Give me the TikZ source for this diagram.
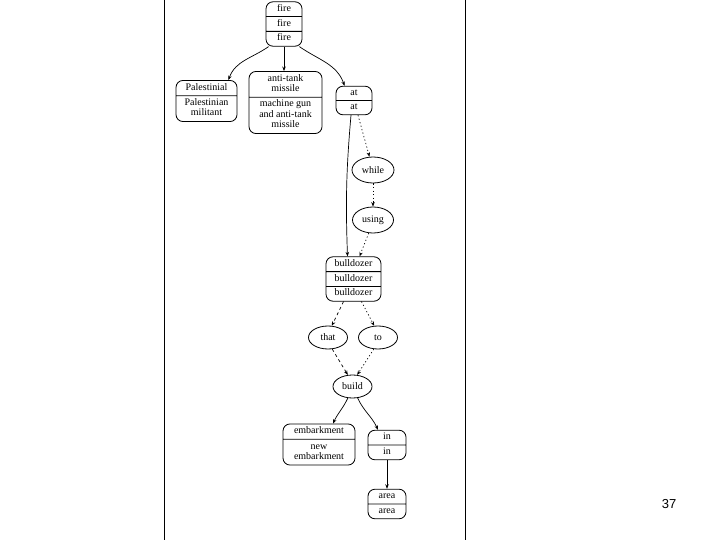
\documentclass[tikz,border=0pt]{standalone}
\usepackage{fontspec}
\setmainfont{Liberation Serif}
\setsansfont{Liberation Sans}
\usetikzlibrary{shapes.multipart,shapes.geometric,arrows.meta}

\newcommand{\lex}[1]{\begin{tabular}{@{}c@{}}#1\end{tabular}}

\tikzset{
	lexbox/.style={draw, rectangle split, rectangle split parts=#1, rounded corners=7pt,
		inner xsep=2pt, inner ysep=2pt, line width=0.8pt, font=\fontsize{10}{10.5}\selectfont},
	wordell/.style={draw, ellipse, inner sep=0pt, minimum width=39pt, minimum height=23pt,
		line width=0.8pt, font=\fontsize{10}{10.5}\selectfont},
	dep/.style={-{Stealth[length=4.5pt,width=3.5pt]}, line width=0.7pt},
	dotdep/.style={dep, dash pattern=on 1.2pt off 2.4pt},
	dashdep/.style={dep, dash pattern=on 3pt off 3pt},
}

\begin{document}
\begin{tikzpicture}[x=1pt,y=-1pt]
		\useasboundingbox (0,0) rectangle (720,540);
		\draw[line width=0.8pt] (164,0) -- (164,540);  % left rule
		\draw[line width=0.8pt] (465,0) -- (465,540);  % right rule

		\node[lexbox=3, minimum width=36pt, inner ysep=1.75pt] (fire) at (284,24) {\lex{fire}\nodepart{two}\lex{fire}\nodepart{three}\lex{fire}};
		\draw[line width=1.6pt] (fire.text split west) -- (fire.text split east);
		\node[lexbox=2, minimum width=61pt] (pal) at (206.5,101) {\lex{Palestinial}\nodepart{two}\lex{Palestinian\\militant}};
		\node[lexbox=2, minimum width=73pt] (atm) at (285.5,102.5) {\lex{anti-tank\\missile}\nodepart{two}\lex{machine gun\\and anti-tank\\missile}};
		\node[lexbox=2, minimum width=36pt, inner ysep=1.5pt] (at) at (354,100.5) {\lex{at}\nodepart{two}\lex{at}};

		\node[wordell, minimum width=42pt, minimum height=26pt] (while) at (373,170) {while};
		\node[wordell, minimum width=41pt, minimum height=26pt] (using) at (373,220) {using};

		\node[lexbox=3, minimum width=55pt, inner ysep=1.75pt] (bull) at (353.5,279) {\lex{bulldozer}\nodepart{two}\lex{bulldozer}\nodepart{three}\lex{bulldozer}};

		\node[wordell] (that) at (328,337.5) {that};
		\node[wordell] (to) at (378,337.5) {to};
		\node[wordell] (build) at (352.5,386.5) {build};

		\node[lexbox=2, minimum width=72pt] (emb) at (319,444.5) {\lex{embarkment}\nodepart{two}\lex{new\\embarkment}};
		\node[lexbox=2, minimum width=38pt, inner ysep=1.75pt] (in) at (387,445) {\lex{in}\nodepart{two}\lex{in}};
		\node[lexbox=2, minimum width=38pt, inner ysep=1.75pt] (area) at (387,504) {\lex{area}\nodepart{two}\lex{area}};

		\node[font=\sffamily\fontsize{13}{15}\selectfont] (page) at (669,504) {37};

		% fire
		\draw[dep] ([xshift=3pt]fire.south west) to[out=-145,in=70] ([xshift=-9pt]pal.north east);
		\draw[dep] (fire.south) -- (fire.south |- atm.north);
		\draw[dep] ([xshift=-3pt]fire.south east) to[out=-35,in=110] ([xshift=9pt]at.north west);
		% at
		\draw[dep] ([xshift=-3pt]at.south) to[out=-95,in=92] ([xshift=-6pt]bull.north);
		\draw[dotdep] ([xshift=4pt]at.south) -- (while.105);
		\draw[dotdep] (while.south) -- (using.north);
		\draw[dotdep] (using.252) -- ([xshift=6pt]bull.north);
		% bulldozer
		\draw[dashdep] ([xshift=-10pt]bull.south) -- (that.72);
		\draw[dotdep] ([xshift=8pt]bull.south) -- (to.108);
		\draw[dashdep] (that.-70) -- (build.112);
		\draw[dotdep] (to.-110) -- (build.68);
		% build
		\draw[dep] (build.-112) to[out=-115,in=65] ([xshift=14pt]emb.north);
		\draw[dep] (build.-66) to[out=-65,in=115] ([xshift=-9pt]in.north);
		\draw[dep] (in.south) -- (area.north);
	\end{tikzpicture}
\end{document}
